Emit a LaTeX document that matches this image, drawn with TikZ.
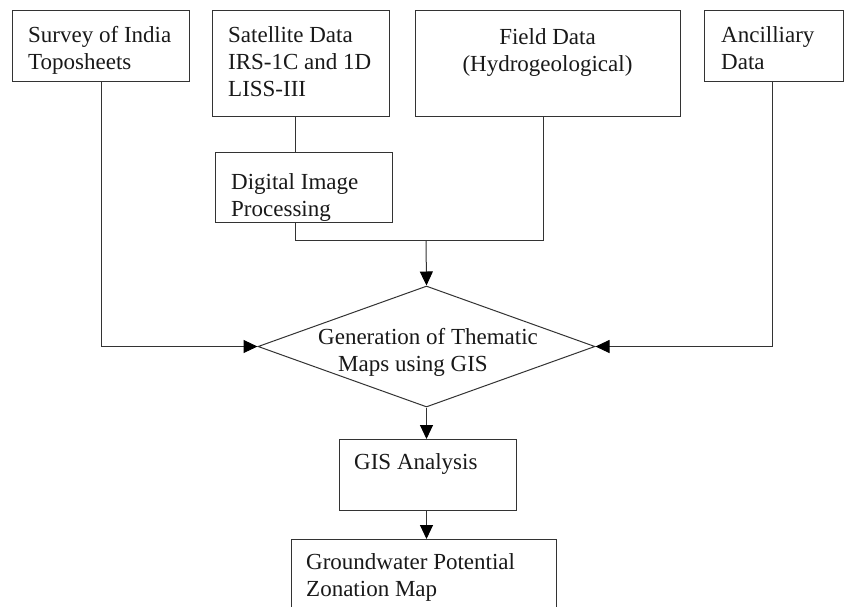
\documentclass[tikz,border=0pt]{standalone}
\usepackage{fontspec}
\setmainfont{Liberation Serif}
\usetikzlibrary{arrows.meta,shapes.geometric}
\begin{document}
\begin{tikzpicture}[x=1pt,y=-1pt,
  box/.style={draw=black!80,line width=1pt,rectangle,inner sep=0pt,anchor=north west},
  txt/.style={inner sep=0pt,align=left,anchor=north west,font=\fontsize{23}{27}\selectfont,text=black!90},
  ln/.style={draw=black!80,line width=1pt},
  arr/.style={ln,-{Triangle[length=14pt,width=13pt,color=black]}}]
\clip (0,0) rectangle (845,606);
\fill[white] (0,0) rectangle (845,606);
% boxes
\node[box,minimum width=177,minimum height=71] (sur) at (12,10) {};
\node[txt] (surt) at (28,26) {Survey of India\\Toposheets};
\node[box,minimum width=177,minimum height=106] (sat) at (212,10) {};
\node[txt] (satt) at (228,26) {Satellite Data\\IRS-1C and 1D\\LISS-III};
\node[box,minimum width=265,minimum height=106] (fld) at (415,10) {};
\node[txt,anchor=north,align=center] (fldt) at (547.5,28) {Field Data\\(Hydrogeological)};
\node[box,minimum width=139,minimum height=71] (anc) at (704,10) {};
\node[txt] (anct) at (721,26) {Ancilliary\\Data};
\node[box,minimum width=177,minimum height=70] (dip) at (215,152) {};
\node[txt] (dipt) at (231,173) {Digital Image\\Processing};
\node[ln,diamond,minimum width=337,minimum height=121,inner sep=0pt] (dia) at (426.5,346.5) {};
\node[txt] (diat) at (318,328) {Generation of Thematic\\\hspace*{20pt}Maps using GIS};
\node[box,minimum width=177,minimum height=71] (gis) at (339,439) {};
\node[txt] (gist) at (354,453) {GIS Analysis};
\node[box,minimum width=265,minimum height=100] (gw) at (291,539) {};
\node[txt] (gwt) at (306,553) {Groundwater Potential\\Zonation Map};
% connectors
\coordinate (jl) at (295,240);
\coordinate (jr) at (543,240);
\coordinate (jm) at (426,240);
\draw[ln] (sat.south -| jl) -- (dip.north -| jl);
\draw[ln] (dip.south -| jl) -- (jl) -- (jr) -- (fld.south -| jr);
\draw[arr] (jm) -- (dia.north);
\draw[arr] (sur.south) |- (dia.west);
\draw[arr] ([xshift=-1.5pt]anc.south) |- (dia.east);
\draw[arr] (dia.south) -- (dia.south |- gis.north);
\draw[arr] (dia.south |- gis.south) -- (dia.south |- gw.north);
\end{tikzpicture}
\end{document}
